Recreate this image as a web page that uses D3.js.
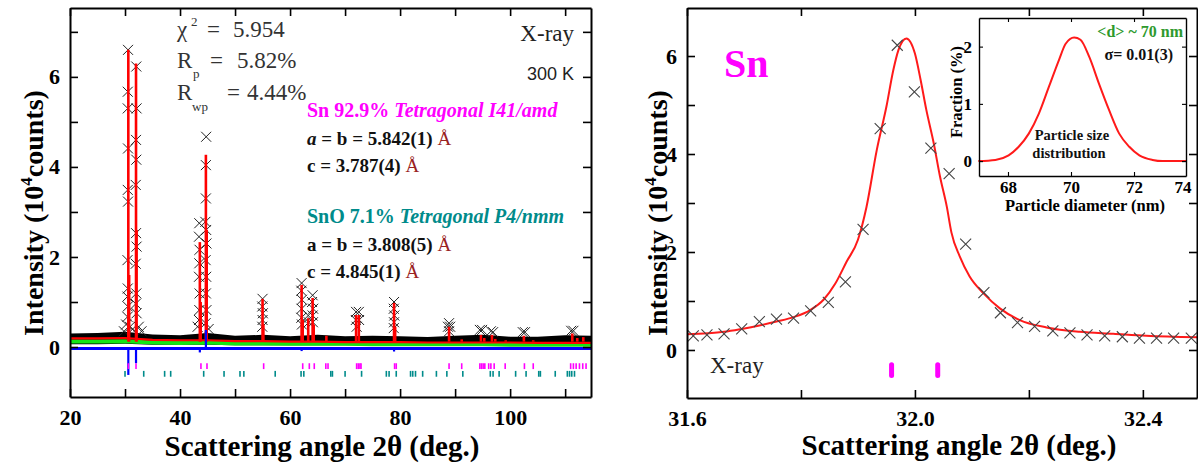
<!DOCTYPE html>
<meta charset="utf-8">
<head>
  <title>Sn XRD refinement</title>
</head>

<style>
  body { margin: 0; background: #fff; }
  svg { display: block; }
</style>

<body>
  <svg width="1198" height="466"></svg>

  <script src="https://cdn.jsdelivr.net/npm/d3@7"></script>
  <script>

// ---------- left panel : full pattern ----------
// background sampling of the observed / calculated / bkg / difference curves
var bandX   = [20, 25, 30, 35, 40, 45, 50, 55, 60, 65, 70, 75, 80, 85, 90, 95, 100, 105, 110, 114.7];
var bandHi  = [0.30, 0.31, 0.34, 0.28, 0.26, 0.31, 0.25, 0.27, 0.24, 0.27, 0.24, 0.25, 0.24, 0.22, 0.25, 0.27, 0.23, 0.23, 0.26, 0.25];
var bandLo  = [0.06, 0.06, 0.07, 0.05, 0.05, 0.05, 0.04, 0.04, 0.04, 0.04, 0.04, 0.04, 0.04, 0.04, 0.04, 0.04, 0.04, 0.04, 0.04, 0.04];
var calcBase = [0.19, 0.19, 0.20, 0.16, 0.15, 0.15, 0.13, 0.13, 0.12, 0.12, 0.11, 0.11, 0.11, 0.10, 0.10, 0.10, 0.10, 0.09, 0.09, 0.09];
var bkgLine  = [0.12, 0.12, 0.13, 0.10, 0.09, 0.10, 0.08, 0.08, 0.07, 0.07, 0.07, 0.06, 0.06, 0.06, 0.06, 0.06, 0.05, 0.05, 0.05, 0.05];
var diffBase = [-0.03, -0.03, -0.03, -0.03, -0.03, -0.03, -0.03, -0.03, -0.03, -0.03, -0.03, -0.03, -0.03, -0.03, -0.03, -0.03, -0.03, -0.03, -0.03, -0.03];

// calculated peaks [2theta, intensity]
var calcPeaks = [[30.6, 6.6], [30.75, 1.6], [32.0, 6.3], [32.1, 2.6], [43.6, 2.33], [43.75, 1.0],
  [44.7, 4.27], [44.85, 2.6], [55.0, 1.07], [55.15, 0.5], [62.1, 1.38], [62.3, 0.6], [63.3, 0.64],
  [64.1, 1.09], [64.3, 0.5], [66.6, 0.25], [72.0, 0.71], [72.5, 0.71], [78.9, 0.98], [79.1, 0.45],
  [88.9, 0.45], [91.2, 0.17], [94.7, 0.27], [95.3, 0.2], [96.7, 0.27], [97.3, 0.18], [99.2, 0.15],
  [102.5, 0.25], [104.2, 0.15], [111.3, 0.3], [112.2, 0.2], [113.3, 0.22]];

// observed points standing out of the background band
var obsPeaks = [
  [30.55, 6.6], [30.5, 5.67], [30.5, 5.3], [30.55, 4.41], [30.5, 3.49], [30.55, 3.23], [30.45, 1.93], [30.5, 1.3], [30.45, 1.12], [30.5, 0.9], [30.45, 0.67],
  [32.05, 6.23], [32.1, 5.3], [32.0, 4.6], [32.05, 4.16], [31.95, 3.6], [32.0, 2.53], [32.1, 2.23], [31.95, 1.85], [32.05, 1.19], [31.95, 0.96], [32.1, 0.75],
  [30.2, 0.5], [30.9, 0.45], [31.4, 0.4], [32.5, 0.45], [29.8, 0.35], [33.0, 0.35],
  [43.5, 2.75], [43.45, 2.45], [43.55, 2.16], [43.5, 1.86], [43.45, 1.56], [43.55, 1.19], [43.5, 0.82], [43.45, 0.6],
  [44.75, 4.67], [44.7, 4.04], [44.7, 3.3], [44.6, 2.78], [44.75, 2.6], [44.8, 2.3], [44.65, 1.93], [44.75, 1.56], [44.7, 1.19], [44.8, 0.82], [44.65, 0.53],
  [43.2, 0.45], [45.2, 0.4],
  [55.0, 1.07], [54.95, 0.9], [55.05, 0.75], [55.0, 0.6], [54.95, 0.45],
  [62.1, 1.42], [62.05, 1.25], [62.15, 1.05], [62.1, 0.85], [62.05, 0.65], [62.15, 0.5],
  [63.3, 0.7], [63.4, 0.55], [64.1, 1.15], [64.0, 1.0], [64.2, 0.85], [64.1, 0.7], [64.15, 0.55],
  [72.0, 0.78], [72.5, 0.78], [71.95, 0.6], [72.55, 0.6], [72.1, 0.45],
  [78.9, 1.0], [78.85, 0.85], [78.95, 0.7], [78.9, 0.55], [78.85, 0.42],
  [88.9, 0.53], [88.7, 0.45], [89.1, 0.45], [88.9, 0.35],
  [94.5, 0.38], [94.9, 0.38], [96.5, 0.35], [96.9, 0.33], [102.3, 0.33], [102.7, 0.33], [111.1, 0.36], [111.5, 0.36]];

// difference spikes [2theta, value]
var diffSpikes = [[30.6, -0.62], [32.0, -0.36], [43.6, -0.12], [44.7, 0.38], [55.0, -0.06], [62.1, -0.09], [64.1, -0.05], [78.9, -0.1], [88.9, -0.05]];

// Bragg reflection markers
var snTicks  = [30.6, 32.0, 43.8, 44.9, 55.2, 62.3, 63.5, 64.4, 66.5, 66.9, 72.1, 72.4, 72.7, 72.9, 79.0, 79.3, 88.9, 91.2,
  94.5, 94.8, 95.1, 95.4, 96.1, 96.5, 97.1, 99.1, 102.6, 104.2, 111.0, 111.5, 112.0, 112.6, 113.2, 113.8];
var snoTicks = [30.0, 33.4, 37.2, 38.3, 44.3, 48.0, 50.9, 51.6, 57.3, 62.0, 62.5, 67.4, 67.7, 70.0, 73.0, 77.5, 78.0, 79.3,
  81.9, 82.3, 82.8, 84.1, 86.6, 88.5, 91.4, 96.4, 96.9, 98.0, 101.0, 102.9, 105.2, 105.5, 108.2, 110.4, 110.8, 111.2, 111.7];

// ---------- right panel : Sn (101) peak ----------
var zoomObsX = [31.611, 31.635, 31.665, 31.696, 31.727, 31.757, 31.787, 31.817, 31.848, 31.878, 31.909, 31.939, 31.969, 31.999,
  32.028, 32.06, 32.089, 32.121, 32.150, 32.18, 32.21, 32.242, 32.272, 32.302, 32.333, 32.364, 32.394, 32.424, 32.454, 32.485];
var zoomObsY = [0.29, 0.31, 0.33, 0.43, 0.58, 0.63, 0.65, 0.80, 0.97, 1.39, 2.46, 4.52, 6.22, 5.27,
  4.12, 3.6, 2.16, 1.17, 0.76, 0.56, 0.48, 0.39, 0.35, 0.31, 0.29, 0.27, 0.24, 0.24, 0.24, 0.24];
var zoomCalcX = [31.6, 31.665, 31.696, 31.727, 31.757, 31.787, 31.817, 31.84, 31.86, 31.88, 31.9, 31.915, 31.933, 31.95, 31.962,
  31.971, 31.985, 32.0, 32.01, 32.02, 32.033, 32.044, 32.056, 32.064, 32.079, 32.096, 32.12, 32.149, 32.184, 32.231, 32.289, 32.348, 32.406, 32.495];
var zoomCalcY = [0.32, 0.37, 0.43, 0.5, 0.58, 0.67, 0.82, 1.03, 1.35, 1.8, 2.25, 2.92, 4.08, 4.97, 5.71,
  6.12, 6.36, 6.05, 5.51, 4.9, 4.22, 3.54, 2.92, 2.4, 1.9, 1.5, 1.16, 0.85, 0.61, 0.46, 0.37, 0.33, 0.29, 0.26];
var zoomTicks = [31.959, 32.04];

// ---------- inset : particle size distribution ----------
var sizeX = [67.06, 67.6, 68.02, 68.34, 68.66, 68.98, 69.3, 69.62, 69.83, 70.1, 70.3, 70.58, 70.89, 71.21, 71.53, 71.85, 72.17, 72.59, 72.9, 73.65];
var sizeY = [0, 0.02, 0.1, 0.25, 0.48, 0.83, 1.3, 1.77, 2.05, 2.16, 2.12, 1.82, 1.35, 0.89, 0.48, 0.25, 0.1, 0.02, 0, 0];

var serif = '"Liberation Serif", "Times New Roman", serif';
var sans = '"Liberation Sans", Arial, sans-serif';

var svg = d3.select('svg');
svg.append('rect').attr('width', 1198).attr('height', 466).attr('fill', '#fff');

// scales
var xL = d3.scaleLinear().domain([20, 114.7]).range([70, 591]);
var yL = d3.scaleLinear().domain([-1.11, 7.53]).range([397, 8]);
var xR = d3.scaleLinear().domain([31.6, 32.495]).range([687, 1197]);
var yR = d3.scaleLinear().domain([-0.98, 6.98]).range([398, 8]);
var xI = d3.scaleLinear().domain([67.08, 73.65]).range([979, 1186]);
var yI = d3.scaleLinear().domain([-0.26, 2.5]).range([176, 18]);

function cross(s) {
  return 'M' + (-s) + ',' + (-s) + 'L' + s + ',' + s + 'M' + (-s) + ',' + s + 'L' + s + ',' + (-s);
}

// box with inward ticks on all four sides, labels on bottom/left
function frame(x, y, xMajor, xMinor, yMajor, yMinor, len, fontSize, padX, padY, xFmt, yFmt, sw) {
  var xs = xMajor.concat(xMinor), ys = yMajor.concat(yMinor);
  var r = x.range(), rr = y.range();
  var g = svg.append('g');
  var fx = function(d) { return xMajor.indexOf(d) >= 0 ? xFmt(d) : ''; };
  var fy = function(d) { return yMajor.indexOf(d) >= 0 ? yFmt(d) : ''; };
  g.append('g').attr('transform', 'translate(0,' + rr[0] + ')')
    .call(d3.axisBottom(x).tickValues(xs).tickSizeInner(-len).tickSizeOuter(0).tickPadding(padX).tickFormat(fx));
  g.append('g').attr('transform', 'translate(0,' + rr[1] + ')')
    .call(d3.axisTop(x).tickValues(xs).tickSizeInner(-len).tickSizeOuter(0).tickFormat(''));
  g.append('g').attr('transform', 'translate(' + r[0] + ',0)')
    .call(d3.axisLeft(y).tickValues(ys).tickSizeInner(-len).tickSizeOuter(0).tickPadding(padY).tickFormat(fy));
  g.append('g').attr('transform', 'translate(' + r[1] + ',0)')
    .call(d3.axisRight(y).tickValues(ys).tickSizeInner(-len).tickSizeOuter(0).tickFormat(''));
  g.selectAll('.domain').attr('stroke', '#000').attr('stroke-width', sw);
  g.selectAll('.tick line').attr('stroke', '#000').attr('stroke-width', sw * 0.8);
  g.selectAll('.tick text').attr('font-family', serif)
    .attr('font-weight', 'bold').attr('font-size', fontSize).attr('fill', '#000');
  return g;
}

function label(parent, x, y, size, weight) {
  return parent.append('text').attr('x', x).attr('y', y).attr('font-size', size)
    .attr('font-weight', weight || 'normal').attr('font-family', serif);
}

function yTitle(parent, x, y) {
  parent.append('text').attr('transform', 'translate(' + x + ',' + y + ') rotate(-90)')
    .attr('text-anchor', 'middle').attr('font-size', 28).attr('font-weight', 'bold').attr('font-family', serif)
    .call(function(t) {
      t.append('tspan').text('Intensity (10');
      t.append('tspan').attr('dy', -11).attr('font-size', 17).text('4');
      t.append('tspan').attr('dy', 11).text('counts)');
    });
}

// ================= LEFT PANEL =================
var left = svg.append('g');
left.append('path')
  .datum(bandX)
  .attr('d', d3.area().x(function(d) { return xL(d); })
    .y0(function(d, i) { return yL(bandLo[i]); })
    .y1(function(d, i) { return yL(bandHi[i]); }))
  .attr('fill', '#000');

left.selectAll('.obs').data(obsPeaks).enter().append('path')
  .attr('transform', function(d) { return 'translate(' + xL(d[0]) + ',' + yL(d[1]) + ')'; })
  .attr('d', cross(5))
  .attr('stroke', '#222').attr('stroke-width', 1).attr('fill', 'none');

left.append('path').datum(bandX)
  .attr('d', d3.line().x(function(d) { return xL(d); }).y(function(d, i) { return yL(bkgLine[i]); }))
  .attr('fill', 'none').attr('stroke', '#14e614').attr('stroke-width', 4);

left.append('path').datum(bandX)
  .attr('d', d3.line().x(function(d) { return xL(d); }).y(function(d, i) { return yL(calcBase[i]); }))
  .attr('fill', 'none').attr('stroke', '#ff0000').attr('stroke-width', 2.2);

left.selectAll('.calc').data(calcPeaks).enter().append('line')
  .attr('x1', function(d) { return xL(d[0]); }).attr('x2', function(d) { return xL(d[0]); })
  .attr('y1', yL(0.12)).attr('y2', function(d) { return yL(d[1]); })
  .attr('stroke', '#ff0000').attr('stroke-width', 2.6);

left.append('path').datum(bandX)
  .attr('d', d3.line().x(function(d) { return xL(d); }).y(function(d, i) { return yL(diffBase[i]); }))
  .attr('fill', 'none').attr('stroke', '#0000ff').attr('stroke-width', 3);

left.selectAll('.diff').data(diffSpikes).enter().append('line')
  .attr('x1', function(d) { return xL(d[0]); }).attr('x2', function(d) { return xL(d[0]); })
  .attr('y1', yL(-0.03)).attr('y2', function(d) { return yL(d[1]); })
  .attr('stroke', '#0000ff').attr('stroke-width', 2.2);

left.selectAll('.sn').data(snTicks).enter().append('line')
  .attr('x1', function(d) { return xL(d); }).attr('x2', function(d) { return xL(d); })
  .attr('y1', yL(-0.36)).attr('y2', yL(-0.49))
  .attr('stroke', '#ff00ff').attr('stroke-width', 1.6);

left.selectAll('.sno').data(snoTicks).enter().append('line')
  .attr('x1', function(d) { return xL(d); }).attr('x2', function(d) { return xL(d); })
  .attr('y1', yL(-0.53)).attr('y2', yL(-0.66))
  .attr('stroke', '#008b8b').attr('stroke-width', 1.6);

frame(xL, yL, [20, 40, 60, 80, 100], [30, 50, 70, 90, 110], [0, 2, 4, 6], [1, 3, 5, 7], 8, 22, 12, 10,
  d3.format('d'), d3.format('d'), 2);

yTitle(left, 43, 213);
label(left, 322, 456, 29, 'bold').attr('text-anchor', 'middle').text('Scattering angle 2\u03b8 (deg.)');

var stat = '#333';
label(left, 177, 37, 23).attr('fill', stat).text('\u03c7');
label(left, 191, 26, 13).attr('fill', stat).text('2');
label(left, 207, 37, 23).attr('fill', stat).text('=');
label(left, 233, 37, 23).attr('fill', stat).text('5.954');
label(left, 177, 68, 23).attr('fill', stat).text('R');
label(left, 193, 78, 13).attr('fill', stat).text('p');
label(left, 210, 68, 23).attr('fill', stat).text('=');
label(left, 237, 68, 23).attr('fill', stat).text('5.82%');
label(left, 177, 100, 23).attr('fill', stat).text('R');
label(left, 192, 111, 13).attr('fill', stat).text('wp');
label(left, 227, 100, 23).attr('fill', stat).text('=');
label(left, 247, 100, 23).attr('fill', stat).text('4.44%');

label(left, 574, 41, 23).attr('text-anchor', 'end').attr('fill', '#222').text('X-ray');
left.append('text').attr('x', 574).attr('y', 80).attr('text-anchor', 'end')
  .attr('font-size', 18).attr('font-family', sans).attr('fill', '#222').text('300 K');

function phase(y, name, group, color) {
  var t = label(left, 307, y, 20, 'bold').attr('fill', color);
  t.append('tspan').text(name + ' ');
  t.append('tspan').attr('font-style', 'italic').text(group);
}
function param(y, pre, italic, val) {
  var t = label(left, 307, y, 19, 'bold').attr('fill', '#111');
  t.append('tspan').attr('font-style', italic ? 'italic' : 'normal').text(pre);
  t.append('tspan').text(' = ' + val + ' ');
  t.append('tspan').attr('font-weight', 'normal').attr('fill', '#992222').text('\u00c5');
}
phase(117, 'Sn 92.9%', 'Tetragonal I41/amd', '#ff00ff');
param(145, 'a', true, 'b = 5.842(1)');
param(172, 'c', false, '3.787(4)');
phase(223, 'SnO 7.1%', 'Tetragonal P4/nmm', '#008b8b');
param(251, 'a', false, 'b = 3.808(5)');
param(278, 'c', false, '4.845(1)');

// ================= RIGHT PANEL =================
var right = svg.append('g');
svg.append('clipPath').attr('id', 'clipR').append('rect')
  .attr('x', 687).attr('y', 8).attr('width', 510).attr('height', 390);

right.append('g').attr('clip-path', 'url(#clipR)').append('path')
  .datum(zoomCalcX)
  .attr('d', d3.line().curve(d3.curveMonotoneX).x(function(d) { return xR(d); }).y(function(d, i) { return yR(zoomCalcY[i]); }))
  .attr('fill', 'none').attr('stroke', '#ff1a1a').attr('stroke-width', 2);

right.selectAll('.zobs').data(zoomObsX).enter().append('path')
  .attr('transform', function(d, i) { return 'translate(' + xR(d) + ',' + yR(zoomObsY[i]) + ')'; })
  .attr('d', cross(5.5))
  .attr('stroke', '#444').attr('stroke-width', 1.1).attr('fill', 'none');

right.selectAll('.ztick').data(zoomTicks).enter().append('line')
  .attr('x1', function(d) { return xR(d); }).attr('x2', function(d) { return xR(d); })
  .attr('y1', yR(-0.3)).attr('y2', yR(-0.52))
  .attr('stroke', '#ff00ff').attr('stroke-width', 5).attr('stroke-linecap', 'round');

frame(xR, yR, [31.6, 32.0, 32.4], [31.8, 32.2], [0, 2, 4, 6], [1, 3, 5], 8, 22, 12, 10,
  d3.format('.1f'), d3.format('d'), 2);

yTitle(right, 667, 213);
label(right, 959, 455, 29, 'bold').attr('text-anchor', 'middle').text('Scattering angle 2\u03b8 (deg.)');
label(right, 724, 77, 40, 'bold').attr('fill', '#ff00ff').text('Sn');
label(right, 710, 373, 23).attr('fill', '#222').text('X-ray');

// ================= INSET =================
var inset = svg.append('g');
inset.append('rect').attr('x', 979).attr('y', 18).attr('width', 207).attr('height', 158).attr('fill', '#fff');
inset.append('path').datum(sizeX)
  .attr('d', d3.line().curve(d3.curveMonotoneX).x(function(d) { return xI(d); }).y(function(d, i) { return yI(sizeY[i]); }))
  .attr('fill', 'none').attr('stroke', '#ff1a1a').attr('stroke-width', 2);

frame(xI, yI, [68, 70, 72], [], [0, 1, 2], [], 4, 17, 5, 7, d3.format('d'), d3.format('d'), 1.4);

label(inset, 1183, 193, 17, 'bold').attr('text-anchor', 'middle').text('74');
label(inset, 1085, 211, 16.5, 'bold').attr('text-anchor', 'middle').text('Particle diameter (nm)');
inset.append('text').attr('transform', 'translate(962,92) rotate(-90)')
  .attr('text-anchor', 'middle').attr('font-size', 16.5).attr('font-weight', 'bold').attr('font-family', serif)
  .text('Fraction (%)');
label(inset, 1183, 37, 16, 'bold').attr('text-anchor', 'end').attr('fill', '#2e9a2e').text('<d> ~ 70 nm');
label(inset, 1173, 60, 16, 'bold').attr('text-anchor', 'end').attr('fill', '#111').text('\u03c3= 0.01(3)');
label(inset, 1072, 140, 14.5, 'bold').attr('text-anchor', 'middle').attr('fill', '#111').text('Particle size');
label(inset, 1069, 158, 14.5, 'bold').attr('text-anchor', 'middle').attr('fill', '#111').text('distribution');

  </script>
</body>
</html>
